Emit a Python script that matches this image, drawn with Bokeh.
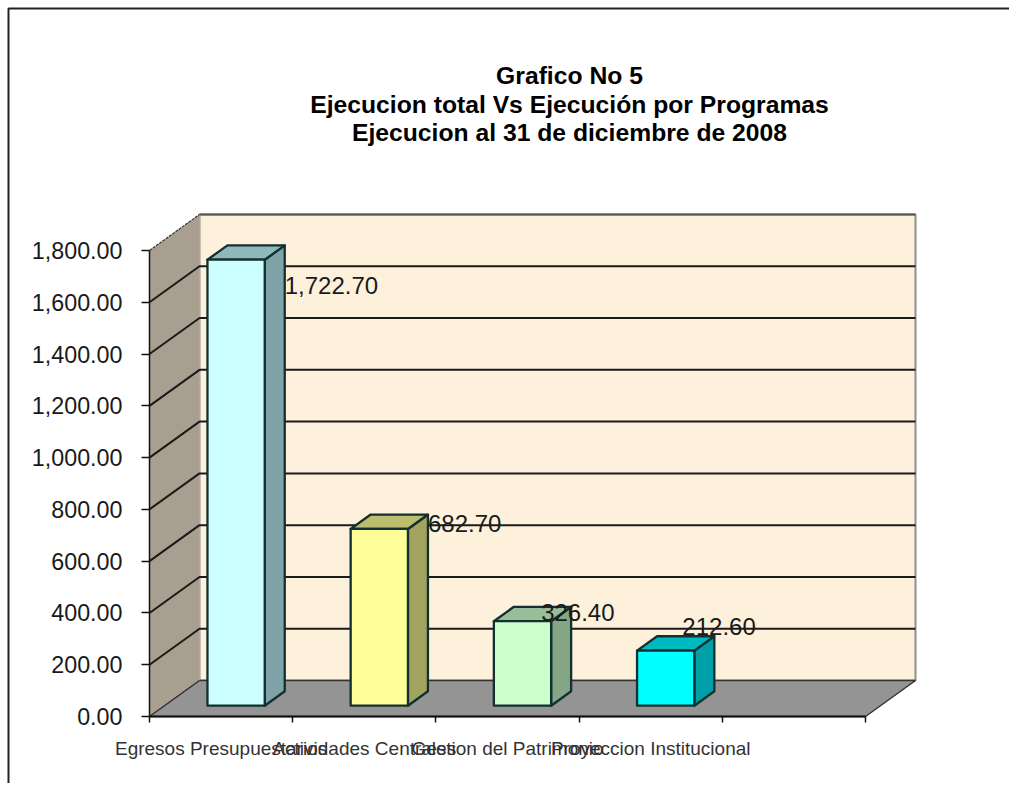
from bokeh.plotting import figure
from bokeh.embed import file_html
from bokeh.resources import INLINE
from bokeh.models import FixedTicker, NumeralTickFormatter
from bokeh.core.properties import value

# ---- data ----
categories = ["Egresos Presupuestarios", "Actividades Centrales",
              "Gestion del Patrimonio", "Proyeccion Institucional"]
values = [1722.70, 682.70, 326.40, 212.60]
y_ticks = [0, 200, 400, 600, 800, 1000, 1200, 1400, 1600, 1800]
title_lines = ["Grafico No 5",
               "Ejecucion total Vs Ejecución por Programas",
               "Ejecucion al 31 de diciembre de 2008"]

# ---- style ----
front_colors = ["#ccffff", "#ffff99", "#ccffcc", "#00ffff"]
side_colors = ["#7fa3a8", "#a3a360", "#85a685", "#00a0a8"]
top_colors = ["#8fb8bd", "#bdbd70", "#98bd98", "#00b8c0"]
label_shift_px = [(20, 26), (20, -5), (-10, -9), (-12, -24)]  # from the bar's top right corner

W, H = 1009, 783
AX_L, AX_B = 149, 716     # where the value axis and category axis lie on the canvas
PX_PER_CAT = 143.2
PX_PER_VAL = 466 / 1800
DX = 50 / PX_PER_CAT      # chart depth in category units
DY = 36 / PX_PER_VAL      # chart depth in value units
NCAT = 5
YMAX = 1800
BAR_W = 0.4
D0, D1 = 0.3, 0.7         # bar's depth span, as parts of the chart depth


def cx(px):
    return (px - AX_L) / PX_PER_CAT


def cy(py):
    return (AX_B - py) / PX_PER_VAL


p = figure(width=W, height=H, frame_width=W, frame_height=H,
           x_range=(cx(0), cx(W)), y_range=(cy(H), cy(0)),
           min_border=0,
           output_backend="svg", toolbar_location=None,
           background_fill_color="white", border_fill_color="white")
p.outline_line_color = None
p.grid.visible = False

# slide frame
p.line([cx(W + 5), cx(8), cx(8)], [cy(8), cy(8), cy(H + 5)], line_color="#222222", line_width=2)

# walls and floor
p.patch([DX, NCAT + DX, NCAT + DX, DX], [DY, DY, YMAX + DY, YMAX + DY],
        fill_color="#fdf1dc", line_color="#8f8f8f", line_width=2)
p.patch([0, DX, DX, 0], [0, DY, YMAX + DY, YMAX],
        fill_color="#a89f90", line_color=None)
p.patch([0, NCAT, NCAT + DX, DX], [0, 0, DY, DY], fill_color="#949494", line_color="#333333", line_width=1.5)
p.line([DX, NCAT + DX], [YMAX + DY, YMAX + DY], line_color="#555555", line_width=2)
p.line([DX, DX], [0 + DY, YMAX + DY], line_color="#b0a898", line_width=1)
p.line([0, DX], [YMAX, YMAX + DY], line_color="#333333", line_width=1.2, line_dash="3 1")
p.line([0, DX], [0, DY], line_color="#333333", line_width=1, line_dash="3 1")

# gridlines
for t in y_ticks[1:-1]:
    p.line([0, DX, NCAT + DX], [t, t + DY, t + DY], line_color="#1a1a1a", line_width=2)

# bars
for i, v in enumerate(values):
    x0 = i + 0.5 - BAR_W / 2 + D0 * DX
    x1 = x0 + BAR_W
    y0 = D0 * DY
    y1 = y0 + v
    sx = (D1 - D0) * DX
    sy = (D1 - D0) * DY
    style = dict(line_color="#12302f", line_width=2.3, line_join="round")
    p.patch([x1, x1 + sx, x1 + sx, x1], [y0, y0 + sy, y1 + sy, y1], fill_color=side_colors[i], **style)
    p.patch([x0, x1, x1 + sx, x0 + sx], [y1, y1, y1 + sy, y1 + sy], fill_color=top_colors[i], **style)
    p.patch([x0, x1, x1, x0], [y0, y0, y1, y1], fill_color=front_colors[i], **style)

# data labels
for i, v in enumerate(values):
    x1 = i + 0.5 + BAR_W / 2 + D0 * DX
    y1 = D0 * DY + v
    sx_px, sy_px = label_shift_px[i]
    p.text([x1 + sx_px / PX_PER_CAT], [y1 - sy_px / PX_PER_VAL], text=[f"{v:,.2f}"],
           text_font=value("Liberation Sans"), text_font_size="24px", text_color="#1a1a1a",
           text_align="left", text_baseline="middle")

# axes
ax = p.yaxis[0]
ax.fixed_location = 0
ax.ticker = FixedTicker(ticks=y_ticks)
ax.formatter = NumeralTickFormatter(format="0,0.00")
ax.bounds = (0, YMAX)
ax.axis_line_color = "#111111"
ax.axis_line_width = 1.5
ax.major_tick_in = 0
ax.major_tick_out = 8
ax.minor_tick_line_color = None
ax.major_tick_line_color = "#111111"
ax.major_tick_line_width = 1.5
ax.major_label_standoff = 19
ax.major_label_text_font = "Liberation Sans"
ax.major_label_text_font_size = "23.3px"
ax.major_label_text_color = "#1a1a1a"

bx = p.xaxis[0]
bx.fixed_location = 0
centers = [i + 0.5 for i in range(len(categories))]
bx.ticker = FixedTicker(ticks=centers, minor_ticks=list(range(NCAT + 1)))
bx.major_label_overrides = {c: n for c, n in zip(centers, categories)}
bx.bounds = (0, NCAT)
bx.axis_line_color = "#111111"
bx.axis_line_width = 2
bx.major_tick_line_color = None
bx.minor_tick_in = 0
bx.minor_tick_out = 6
bx.minor_tick_line_color = "#111111"
bx.minor_tick_line_width = 1.5
bx.major_label_standoff = 15
bx.major_label_text_font = "Liberation Sans"
bx.major_label_text_font_size = "19px"
bx.major_label_text_color = "#333333"

# title
p.text([cx(569)] * 3, [cy(75), cy(104), cy(132)], text=title_lines,
       text_font=value("Liberation Sans"), text_font_style="bold", text_font_size="24.7px",
       text_color="#000000", text_align="center", text_baseline="middle")

open("out.html", "w").write(file_html(p, INLINE))
